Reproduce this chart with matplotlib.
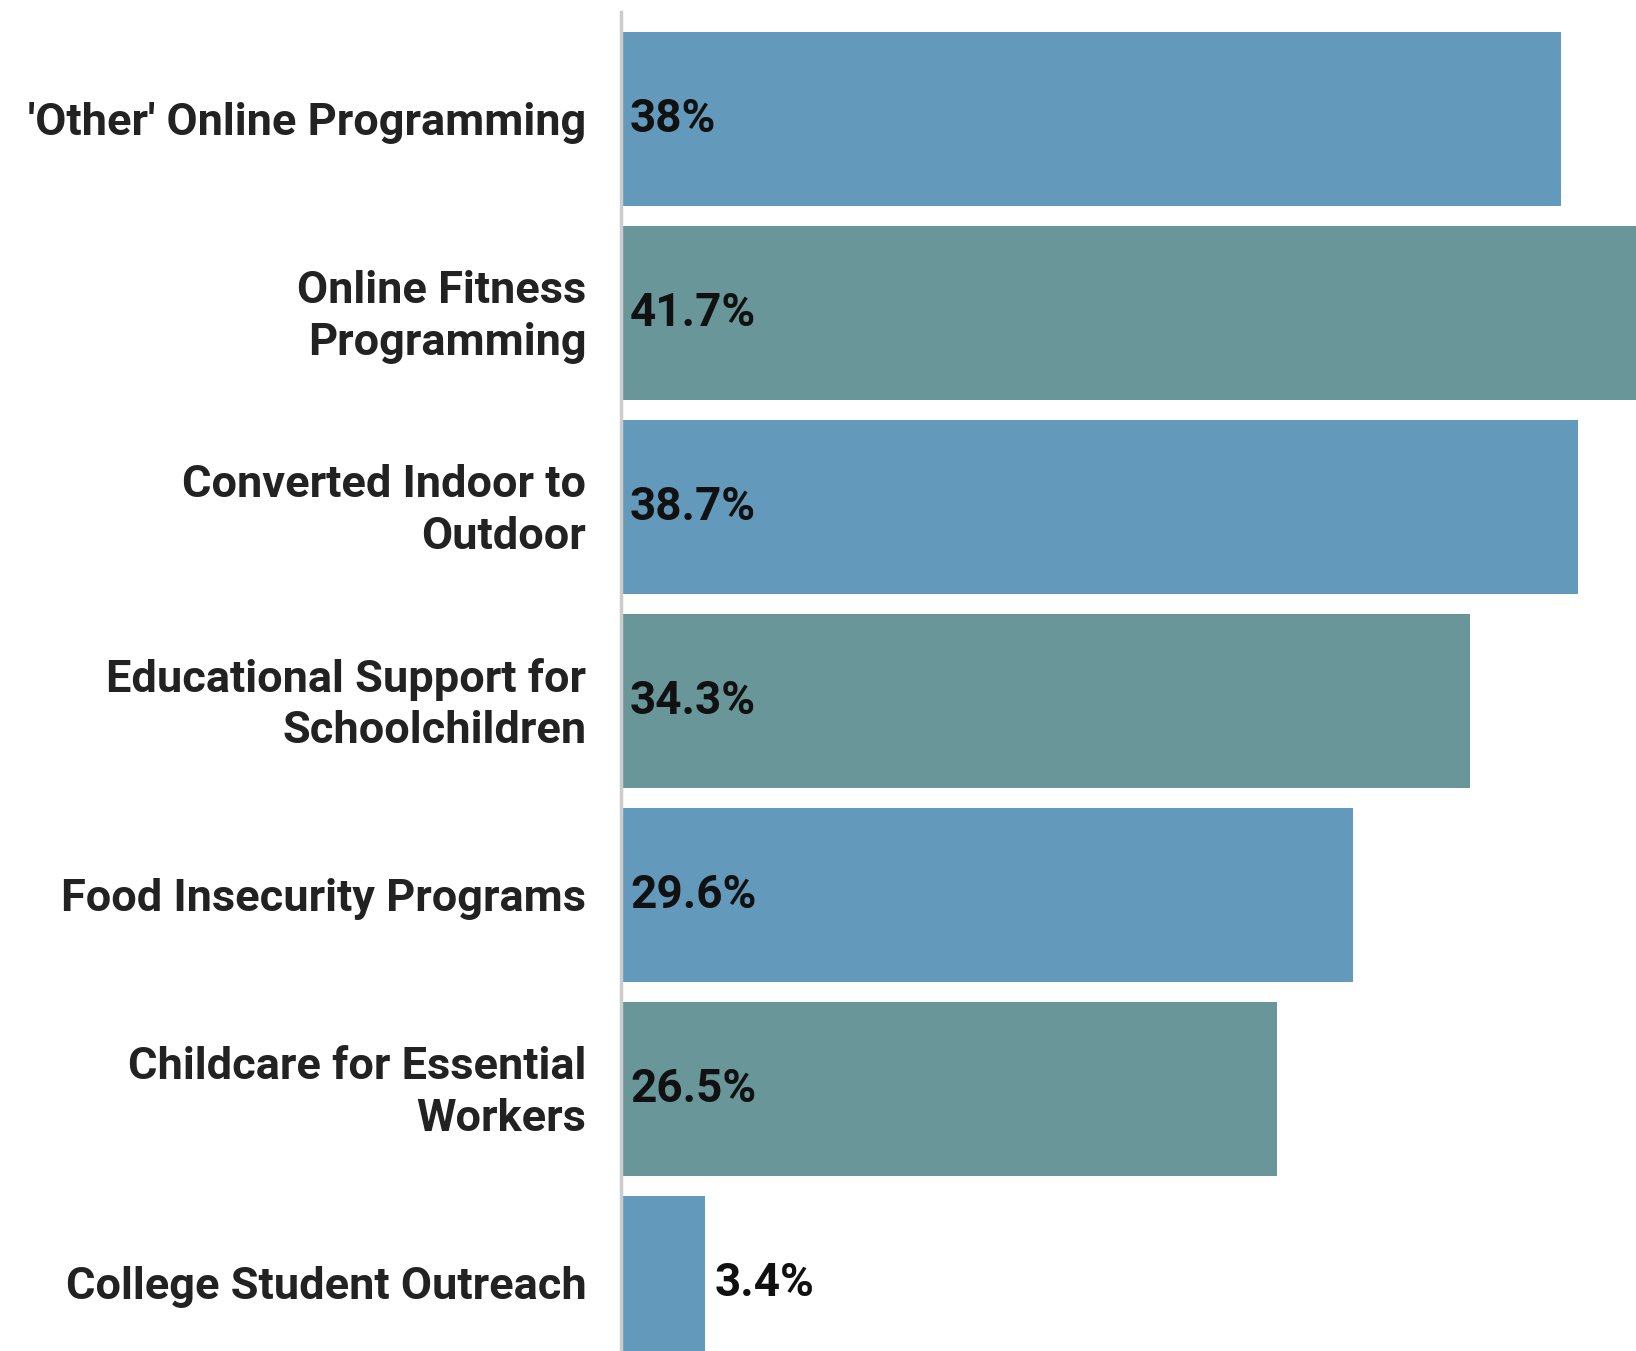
import matplotlib
matplotlib.use("Agg")
import matplotlib.pyplot as plt
from matplotlib.transforms import ScaledTranslation

categories = ["'Other' Online Programming", "Online Fitness\nProgramming",
              "Converted Indoor to\nOutdoor", "Educational Support for\nSchoolchildren",
              "Food Insecurity Programs", "Childcare for Essential\nWorkers",
              "College Student Outreach"]
values = [38.0, 41.7, 38.7, 34.3, 29.6, 26.5, 3.4]
value_labels = ["38%", "41.7%", "38.7%", "34.3%", "29.6%", "26.5%", "3.4%"]
colors = ["#6399ba", "#689699"] * 4

plt.rcParams['font.family'] = ['Roboto', 'DejaVu Sans']

fig = plt.figure(figsize=(16.36, 13.51), dpi=100)
ax = fig.add_axes([0.3796, 0.0, 0.6204, 0.991])

y = list(range(len(categories)))
ax.barh(y, values, height=0.9, color=colors[:len(values)], zorder=2)
ax.set_xlim(0, 41.03)
ax.set_ylim(6.35, -0.55)

for yi, v, lab in zip(y, values, value_labels):
    x0 = 0 if v > 10 else v
    ax.annotate(lab, (x0, yi), xytext=(9, 0), textcoords='offset pixels',
                ha='left', va='center', fontsize=33, fontweight='bold', color='#111111')

ax.set_yticks(y)
ax.set_yticklabels(categories, fontsize=32.5, fontweight='bold', color='#222222',
                   linespacing=1.3, va='center')
ax.tick_params(axis='y', length=0, pad=25)
shift = ScaledTranslation(0, -0.04, fig.dpi_scale_trans)
for lbl in ax.get_yticklabels():
    lbl.set_transform(lbl.get_transform() + shift)
ax.set_xticks([])
for s in ['top', 'right', 'bottom']:
    ax.spines[s].set_visible(False)
ax.spines['left'].set_color('#cccccc')
ax.spines['left'].set_linewidth(2.5)
ax.spines['left'].set_zorder(3)

fig.savefig("out.png", dpi=100)
